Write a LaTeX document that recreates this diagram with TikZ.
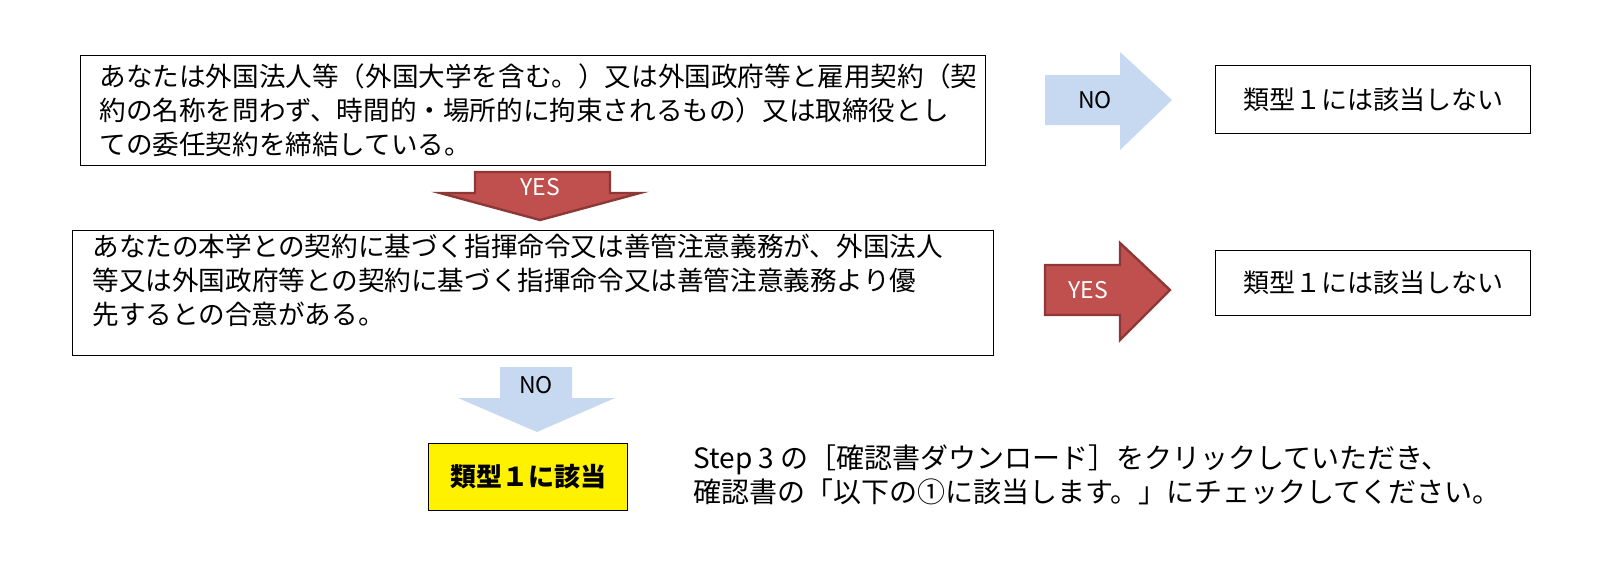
\documentclass[tikz,border=0pt]{standalone}
\usepackage{fontspec}
\setmainfont{Noto Sans CJK JP}
\definecolor{redf}{HTML}{C0504D}
\definecolor{redd}{HTML}{8C3836}
\definecolor{bluef}{HTML}{C6D9F1}
\begin{document}
\begin{tikzpicture}[x=0.5pt,y=-0.5pt,
  box/.style={draw,line width=0.6pt,fill=white},
  txt/.style={font=\fontsize{13.3}{17}\selectfont,align=left,anchor=north west,inner sep=0pt},
  redarr/.style={fill=redf,draw=redd,line width=1.2pt},
  bluearr/.style={fill=bluef,draw=none}]
\useasboundingbox (0,0) rectangle (1600,573);
% boxes
\node[box,minimum width=452.5pt,minimum height=55pt,anchor=north west] (b1) at (80,55) {};
\node[txt] (t1) at (99,63) {あなたは外国法人等（外国大学を含む。）又は外国政府等と雇用契約（契\\約の名称を問わず、時間的・場所的に拘束されるもの）又は取締役とし\\ての委任契約を締結している。};
\node[box,minimum width=460.5pt,minimum height=62.5pt,anchor=north west] (b2) at (72,230) {};
\node[txt] (t2) at (92,234) {あなたの本学との契約に基づく指揮命令又は善管注意義務が、外国法人\\等又は外国政府等との契約に基づく指揮命令又は善管注意義務より優\\先するとの合意がある。};
\node[box,minimum width=157.5pt,minimum height=34pt,anchor=north west,font=\fontsize{13}{15}\selectfont] (r1) at (1215,65) {類型１には該当しない};
\node[box,minimum width=157.5pt,minimum height=32.5pt,anchor=north west,font=\fontsize{13}{15}\selectfont] (r2) at (1215,250) {類型１には該当しない};
\node[draw,line width=0.6pt,fill=yellow,minimum width=99.5pt,minimum height=33.5pt,anchor=north west,font=\bfseries\fontsize{13}{15}\selectfont] (y) at (428,443) {類型１に該当};
\node[txt,font=\fontsize{14}{17}\selectfont] (s) at (693,444) {Step 3 の［確認書ダウンロード］をクリックしていただき、\\確認書の「以下の①に該当します。」にチェックしてください。};
% arrows
\draw[redarr] (475,172) -- (610,172) -- (610,193) -- (640,193) -- (540,220) -- (440,193) -- (475,193) -- cycle;
\node[white,font=\fontsize{11.5}{13}\selectfont] (ly) at (540,187) {YES};
\draw[bluearr] (1045,75) -- (1120,75) -- (1120,52) -- (1172,100) -- (1120,150) -- (1120,125) -- (1045,125) -- cycle;
\node[font=\fontsize{11.5}{13}\selectfont] (ln) at (1095,100) {NO};
\draw[redarr] (1045,265) -- (1120,265) -- (1120,243) -- (1170,290) -- (1120,340) -- (1120,315) -- (1045,315) -- cycle;
\node[white,font=\fontsize{11.5}{13}\selectfont] (ly2) at (1088,290) {YES};
\draw[bluearr] (500,367) -- (572,367) -- (572,398) -- (615,398) -- (537,432) -- (458,398) -- (500,398) -- cycle;
\node[font=\fontsize{11.5}{13}\selectfont] (ln2) at (536,385) {NO};
\end{tikzpicture}
\end{document}
